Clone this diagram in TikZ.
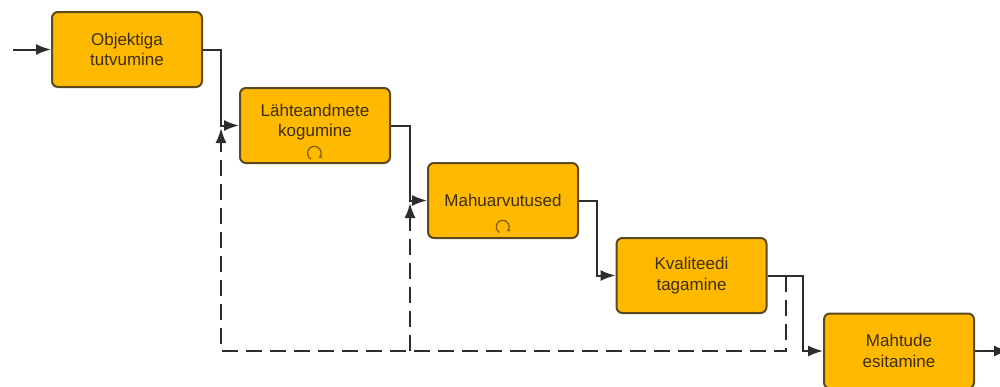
\documentclass[tikz,border=0pt]{standalone}
\usepackage{fontspec}
\setmainfont{Liberation Sans}
\usetikzlibrary{arrows.meta}
\definecolor{boxfill}{RGB}{255,186,0}
\definecolor{boxline}{RGB}{92,72,30}
\definecolor{conn}{RGB}{45,45,45}
\definecolor{labeltext}{RGB}{60,45,5}
\definecolor{loopcol}{RGB}{130,90,10}
\tikzset{
  taskbox/.style={draw=boxline,fill=boxfill,line width=2pt,rounded corners=6pt,minimum width=150pt,minimum height=75pt,inner sep=0pt,anchor=center,align=center,text=labeltext,font=\fontsize{17}{20.5}\selectfont},
  flow/.style={draw=conn,line width=2pt,-{Latex[length=15pt,width=11pt]}},
  loopflow/.style={draw=conn,line width=2pt,dash pattern=on 16pt off 8pt,-{Latex[length=15pt,width=11pt]}},
  loopmark/.style={draw=loopcol,line width=1.2pt}
}
\begin{document}
\begin{tikzpicture}[x=1pt,y=-1pt]
\useasboundingbox (0,0) rectangle (1000,386);
\clip (0,0) rectangle (1000,386);
\node[taskbox] (a) at (127,49.5) {Objektiga\\tutvumine};
\node[taskbox] (b) at (315,125.5) {Lähteandmete\\kogumine\\[-16pt]\strut};
\node[taskbox] (c) at (503,200.5) {Mahuarvutused};
\node[taskbox] (d) at (691.5,275.5) {Kvaliteedi\\tagamine};
\node[taskbox] (e) at (899,351) {Mahtude\\esitamine};
\coordinate (start) at (13,49.5);
\coordinate (finish) at (1009,351);
\coordinate (j1a) at (221,49.5);
\coordinate (j1b) at (221,125.5);
\coordinate (j2a) at (410,125.5);
\coordinate (j2b) at (410,200.5);
\coordinate (j3a) at (597,200.5);
\coordinate (j3b) at (597,275.5);
\coordinate (j4a) at (803,275.5);
\coordinate (j4b) at (803,351);
\coordinate (tap) at (786,275.5);
\coordinate (backc) at (786,351);
\coordinate (backb) at (410,351);
\coordinate (backa) at (221,351);
\coordinate (heada) at (221,128);
\coordinate (headb) at (410,203);
\draw[flow] (start) -- (a.west);
\draw[flow] (a.east) -- (j1a) -- (j1b) -- (b.west);
\draw[flow] (b.east) -- (j2a) -- (j2b) -- (c.west);
\draw[flow] (c.east) -- (j3a) -- (j3b) -- (d.west);
\draw[flow] (d.east) -- (j4a) -- (j4b) -- (e.west);
\draw[flow] (e.east) -- (finish);
\draw[loopflow] (tap) -- (backc) -- (backa) -- (heada);
\draw[loopflow] (backb) -- (headb);
\draw[loopmark,-{Stealth[length=3pt,width=4pt]}] (311,159) arc[start angle=240,end angle=-45,radius=6.8pt];
\draw[loopmark,-{Stealth[length=3pt,width=4pt]}] (499.5,232.5) arc[start angle=240,end angle=-45,radius=6.5pt];
\end{tikzpicture}
\end{document}
